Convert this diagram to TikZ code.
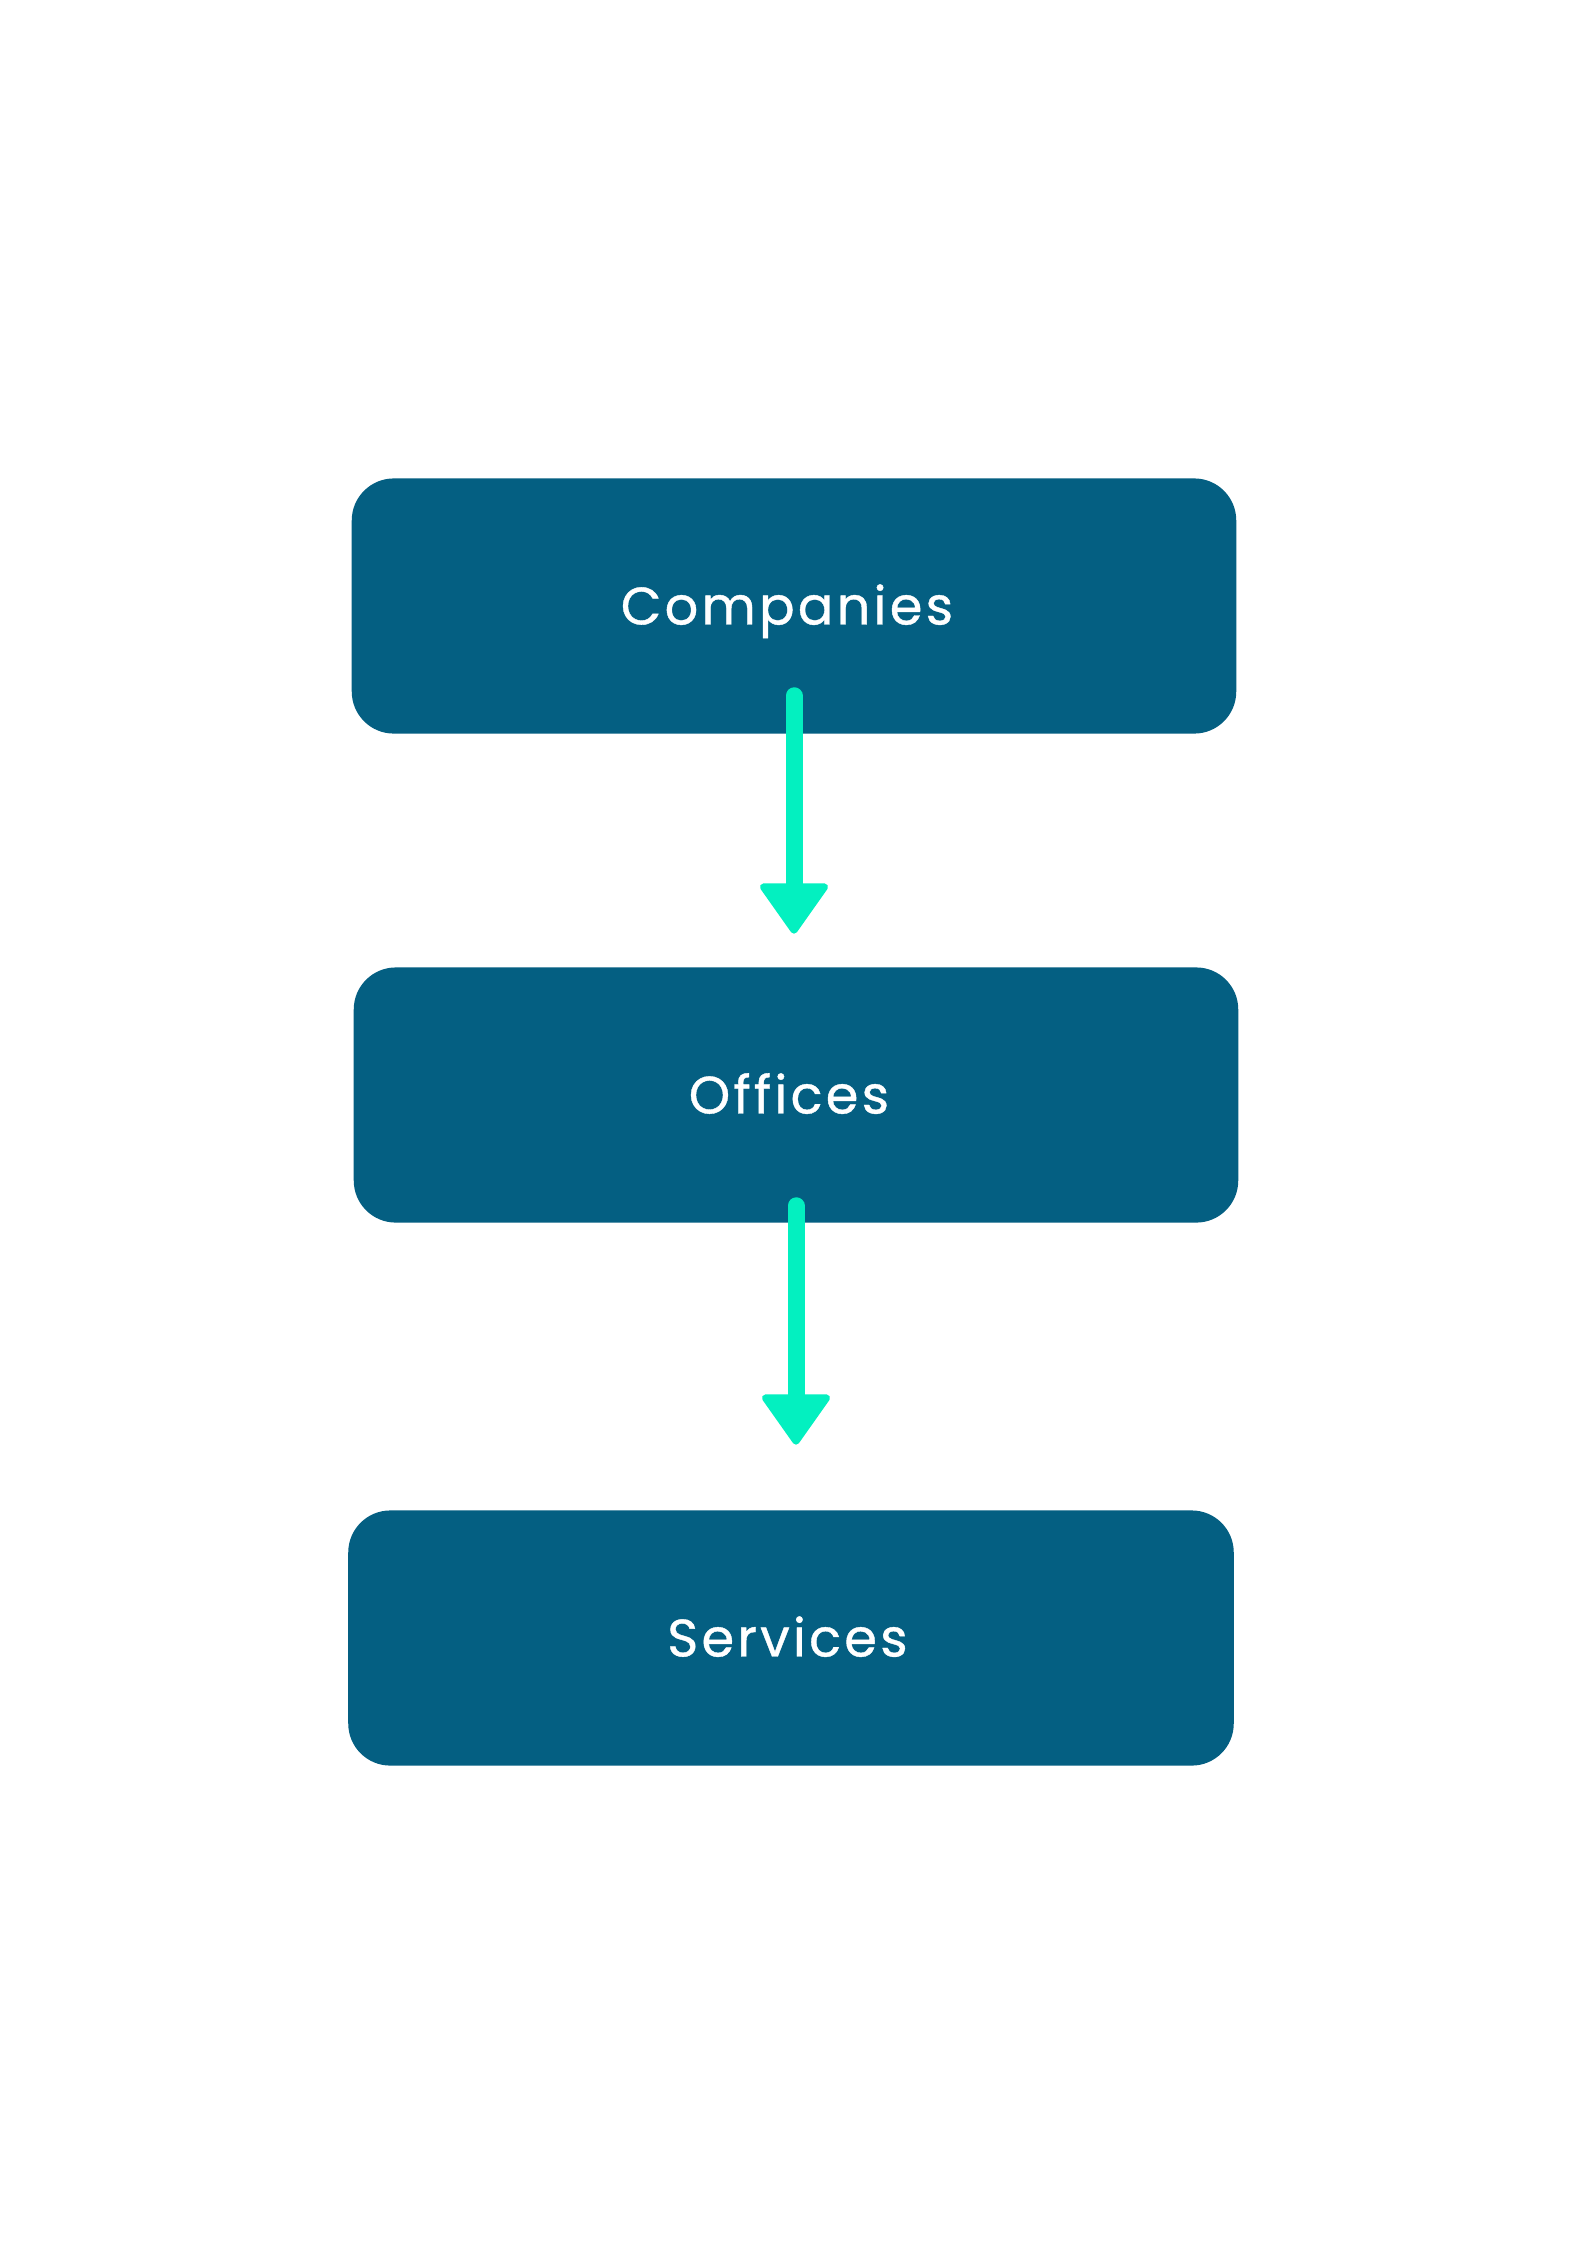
\documentclass[tikz,border=0pt]{standalone}
\usepackage{fontspec}
\setmainfont{Poppins}[LetterSpace=6, FakeBold=0.7]
\usepackage{xcolor}
\usepackage{tikz}
\usetikzlibrary{arrows.meta,positioning,calc}

\definecolor{boxblue}{RGB}{4,95,130}
\definecolor{flowgreen}{RGB}{3,240,192}

\tikzset{
  levelbox/.style={fill=boxblue, rounded corners=0.42cm, minimum width=8.84cm,
    minimum height=2.55cm, inner sep=0pt, text=white, font=\fontsize{15}{18}\selectfont,
    text height=10.5pt, text depth=0pt},
  flowarrow/.style={flowgreen, line width=0.17cm, line cap=round,
    -{Triangle[width=0.73cm, length=0.53cm, line width=2pt, round]}}
}

\begin{document}
\begin{tikzpicture}[x=0.01cm, y=-0.01cm]
  % 页面
  \fill[white] (0,0) rectangle (1587,2245);
  \useasboundingbox (0,0) rectangle (1587,2245);
  % 方框
  \node[levelbox] (companies) at (794,606) {\hspace*{-4pt}Companies};
  \node[levelbox] (offices) at (796,1095) {\hspace*{-4pt}Offices};
  \node[levelbox, minimum width=8.85cm] (services) at (791,1638) {\hspace*{-2pt}Services};
  % 箭头
  \draw[flowarrow] ([yshift=0.385cm]companies.south)
    -- ([yshift=0.33cm]companies.south |- offices.north);
  \draw[flowarrow] ([yshift=0.175cm]offices.south)
    -- ([yshift=0.65cm]offices.south |- services.north);
\end{tikzpicture}
\end{document}
